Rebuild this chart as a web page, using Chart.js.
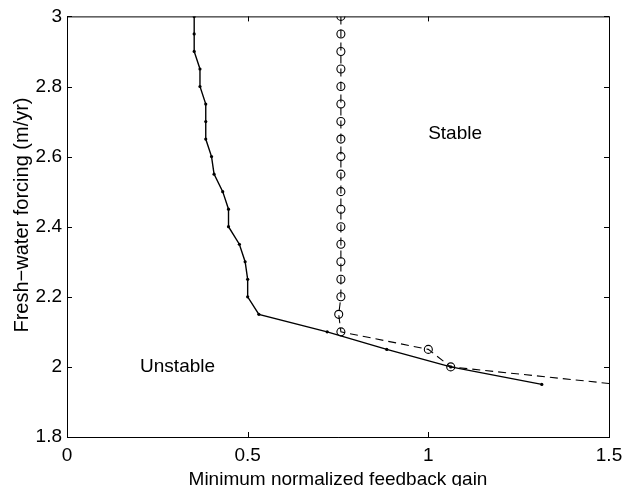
<!DOCTYPE html>
<html>
<head>
    <title>Minimum normalized feedback gain</title>
    <script src="https://cdn.jsdelivr.net/npm/chart.js@4/dist/chart.umd.min.js"></script>
    <style>
        body { margin: 0; background: #fff; }
        #wrap { width: 632px; height: 486px; }
    </style>
</head>
<body>
    <div id="wrap"><canvas id="myChart" width="632" height="486"></canvas></div>

    <script>
        // solid curve (small dots)
        var solidX = [0.352, 0.352, 0.352, 0.368, 0.368, 0.384, 0.384, 0.384, 0.400, 0.407, 0.431,
                      0.447, 0.447, 0.477, 0.493, 0.500, 0.500, 0.531, 0.720, 0.885, 1.062, 1.314];
        var solidY = [3.00, 2.95, 2.90, 2.85, 2.80, 2.75, 2.70, 2.65, 2.60, 2.55, 2.50,
                      2.45, 2.40, 2.35, 2.30, 2.25, 2.20, 2.15, 2.10, 2.05, 2.00, 1.95];

        // dashed curve (open circles), last point runs off the axes
        var dashX = [0.758, 0.758, 0.758, 0.758, 0.758, 0.758, 0.758, 0.758, 0.758, 0.758,
                     0.758, 0.758, 0.758, 0.758, 0.758, 0.758, 0.758, 0.752, 0.758, 1.000, 1.062, 1.600];
        var dashY = [3.00, 2.95, 2.90, 2.85, 2.80, 2.75, 2.70, 2.65, 2.60, 2.55,
                     2.50, 2.45, 2.40, 2.35, 2.30, 2.25, 2.20, 2.15, 2.10, 2.05, 2.00, 1.942];

        var xTicks = [0, 0.5, 1, 1.5];
        var yTicks = [1.8, 2, 2.2, 2.4, 2.6, 2.8, 3];

        var regionLabels = ['Stable', 'Unstable'];
        var regionX = [1.074, 0.306];
        var regionY = [2.665, 2.0];

        var yTitle = 'Fresh\u2212water forcing (m/yr)';

        function toPoints(xs, ys) {
            var pts = [];
            for (var i = 0; i < xs.length; i++) pts.push({x: xs[i], y: ys[i]});
            return pts;
        }

        var FONT = 'Helvetica, "Liberation Sans", Arial, sans-serif';

        // box, inward ticks, region labels and y title
        var framePlugin = {
            id: 'frame',
            afterDraw: function(chart) {
                var c = chart.ctx, a = chart.chartArea;
                var xs = chart.scales.x, ys = chart.scales.y;
                var len = 5;
                c.save();
                c.strokeStyle = '#000';
                c.lineWidth = 1;
                c.beginPath();
                c.rect(a.left + 0.5, a.top + 0.5, a.right - a.left, a.bottom - a.top);
                xTicks.forEach(function(v) {
                    var px = Math.round(xs.getPixelForValue(v)) + 0.5;
                    c.moveTo(px, a.bottom); c.lineTo(px, a.bottom - len);
                    c.moveTo(px, a.top); c.lineTo(px, a.top + len);
                });
                yTicks.forEach(function(v) {
                    var py = Math.round(ys.getPixelForValue(v)) + 0.5;
                    c.moveTo(a.left, py); c.lineTo(a.left + len, py);
                    c.moveTo(a.right, py); c.lineTo(a.right - len, py);
                });
                c.stroke();

                c.fillStyle = '#000';
                c.font = '19px ' + FONT;
                c.textAlign = 'center';
                c.textBaseline = 'middle';
                for (var i = 0; i < regionLabels.length; i++) {
                    c.fillText(regionLabels[i], xs.getPixelForValue(regionX[i]), ys.getPixelForValue(regionY[i]));
                }

                // y title, centred a little above the middle like the original
                c.font = '20px ' + FONT;
                c.translate(22, 215);
                c.rotate(-Math.PI / 2);
                c.fillText(yTitle, 0, 0);
                c.restore();
            }
        };

        var ctx = document.getElementById('myChart').getContext('2d');
        var chart = new Chart(ctx, {
            type: 'scatter',
            data: {
                datasets: [{
                    data: toPoints(solidX, solidY),
                    showLine: true,
                    borderColor: '#000',
                    borderWidth: 1.4,
                    pointRadius: 1.6,
                    pointBackgroundColor: '#000',
                    pointBorderWidth: 0,
                    tension: 0
                }, {
                    data: toPoints(dashX, dashY),
                    showLine: true,
                    borderColor: '#000',
                    borderWidth: 1.1,
                    borderDash: [8, 5],
                    pointStyle: 'circle',
                    pointRadius: dashX.map(function(v, i) { return i === dashX.length - 1 ? 0 : 4; }),
                    pointBackgroundColor: 'rgba(0,0,0,0)',
                    pointBorderColor: '#000',
                    pointBorderWidth: 1.1,
                    tension: 0
                }]
            },
            options: {
                responsive: false,
                animation: false,
                layout: { padding: { top: 10, right: 23, left: 0, bottom: 0 } },
                plugins: {
                    legend: { display: false },
                    tooltip: { enabled: false }
                },
                scales: {
                    x: {
                        type: 'linear',
                        min: 0,
                        max: 1.5,
                        afterBuildTicks: function(s) { s.ticks = xTicks.map(function(v) { return {value: v}; }); },
                        afterFit: function(s) { s.height = 49; },
                        grid: { display: true, drawOnChartArea: false, drawTicks: false },
                        border: { display: true, color: '#000', width: 1 },
                        ticks: {
                            color: '#000', padding: 7, font: { size: 19, family: FONT },
                            callback: function(v) { return String(v); }
                        },
                        title: {
                            display: true,
                            text: 'Minimum normalized feedback gain',
                            color: '#000',
                            font: { size: 19, family: FONT, lineHeight: 1 },
                            padding: { top: 0, bottom: -3 }
                        }
                    },
                    y: {
                        type: 'linear',
                        min: 1.8,
                        max: 3,
                        afterBuildTicks: function(s) { s.ticks = yTicks.map(function(v) { return {value: v}; }); },
                        afterFit: function(s) { s.width = 67; },
                        grid: { display: true, drawOnChartArea: false, drawTicks: false },
                        border: { display: true, color: '#000', width: 1 },
                        ticks: {
                            color: '#000', padding: 5, font: { size: 19, family: FONT },
                            callback: function(v) { return String(v); }
                        },
                        title: { display: false }
                    }
                }
            },
            plugins: [framePlugin]
        });
    </script>
</body>
</html>
